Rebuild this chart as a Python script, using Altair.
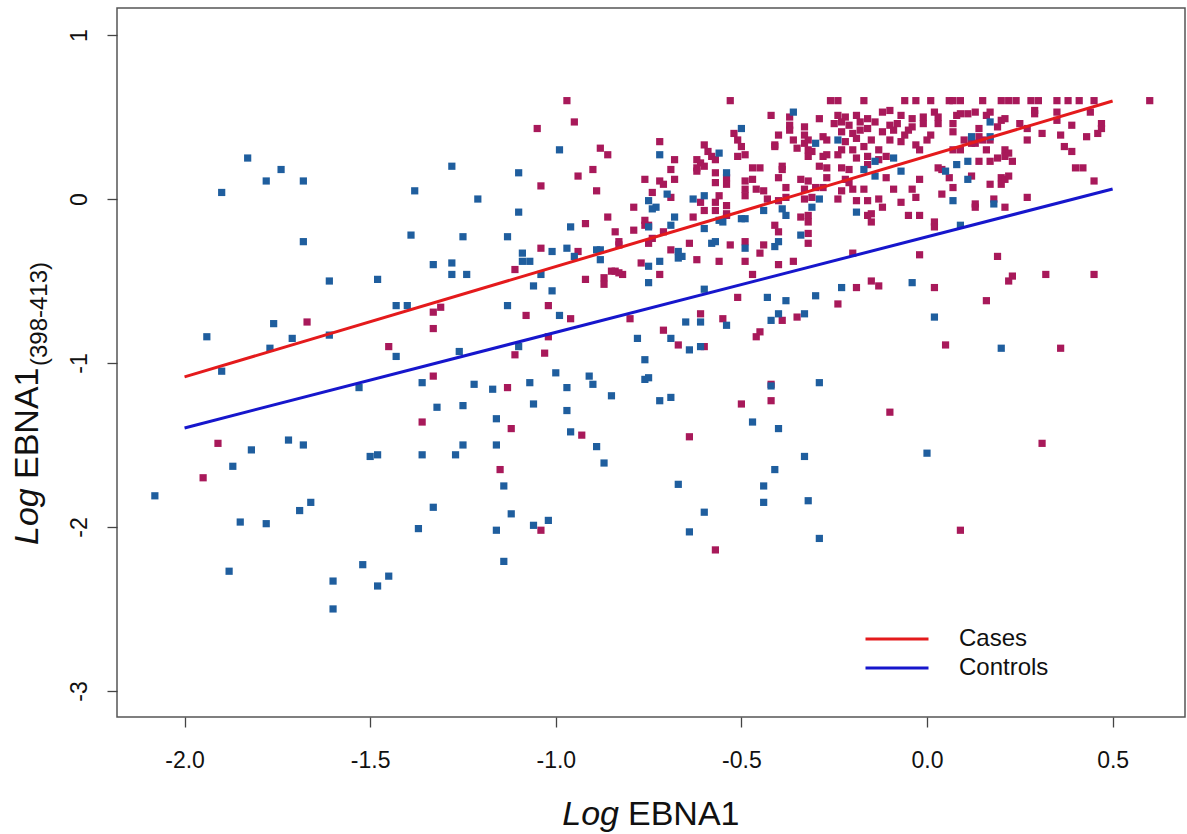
import altair as alt
import pandas as pd

# ---------------- data ----------------
groups = ["Cases", "Controls"]

cases = [
    (-1.33, -0.69), (-1.31, -0.66), (-1.33, -0.79), (-1.67, -0.75), (-1.45, -0.90), (-1.33, -1.08),
    (-1.36, -1.36), (-1.91, -1.49), (-1.95, -1.70),
    (-0.97, 0.60), (-0.53, 0.60), (-1.05, 0.43), (-0.95, 0.47), (-0.52, 0.40), (-0.51, 0.36),
    (-0.50, 0.32), (-0.51, 0.26), (-0.49, 0.27), (-0.72, 0.35), (-0.60, 0.33), (-0.59, 0.29),
    (-0.58, 0.26), (-0.57, 0.24), (-0.62, 0.24), (-0.61, 0.22), (-0.62, 0.19), (-0.60, 0.20),
    (-0.62, 0.17), (-0.88, 0.31), (-0.86, 0.27), (-0.68, 0.24), (-0.90, 0.18), (-0.69, 0.18),
    (-0.94, 0.14), (-0.57, 0.16), (-0.54, 0.13), (-0.76, 0.12), (-0.72, 0.11), (-0.71, 0.09),
    (-0.68, 0.12), (-0.57, 0.10), (-0.54, 0.09), (-0.49, 0.11), (-1.04, 0.08), (-0.89, 0.05),
    (-0.74, 0.04), (-0.69, 0.01), (-0.49, 0.06), (-0.49, 0.02), (-0.56, 0.02), (-0.61, -0.02),
    (-0.57, -0.02), (-0.54, -0.04), (-0.79, -0.05), (-0.60, -0.07), (-0.57, -0.07), (-0.54, -0.09),
    (-0.86, -0.11), (-0.63, -0.11), (-0.54, -0.10), (-0.92, -0.15), (-0.76, -0.13), (-0.76, -0.16),
    (-0.75, -0.16), (-0.79, -0.19), (-0.84, -0.20), (-0.71, -0.20), (-0.74, -0.24), (-0.75, -0.27),
    (-0.83, -0.26), (-0.83, -0.28), (-0.64, -0.27), (-0.53, -0.28), (-0.49, -0.26), (-1.04, -0.30),
    (-0.94, -0.32), (-0.69, -0.31), (-0.62, -0.37), (-0.56, -0.38), (-0.49, -0.38), (-0.77, -0.39),
    (-1.11, -0.43), (-0.85, -0.44), (-0.84, -0.44), (-0.83, -0.45), (-0.82, -0.46), (-0.72, -0.46),
    (-0.92, -0.49), (-0.87, -0.48), (-0.87, -0.52), (-0.51, -0.60), (-1.02, -0.65),
    (-1.08, -0.71), (-0.96, -0.73), (-0.80, -0.73), (-0.61, -0.70), (-0.55, -0.73), (-0.71, -0.80),
    (-1.02, -0.84), (-0.67, -0.89), (-0.60, -0.90), (-1.11, -0.95), (-1.03, -0.94), (-1.13, -1.15),
    (-0.50, -1.25), (-1.12, -1.40), (-0.93, -1.44), (-0.64, -1.45), (-1.15, -1.65), (-1.04, -2.02),
    (-0.57, -2.14),
    (-0.19, -0.54), (-0.15, -0.50), (-0.13, -0.53), (0.02, -0.54), (-0.24, -0.64), (-0.39, -0.74),
    (-0.35, -0.72), (-0.45, -0.81), (-0.46, -0.84), (0.05, -0.89), (-0.42, -1.13), (-0.42, -1.23),
    (-0.10, -1.30), (0.16, -0.62), (0.36, -0.91), (0.31, -1.49), (0.09, -2.02), (0.22, -0.50),
    (-0.26, 0.60), (-0.24, 0.60), (-0.17, 0.60), (-0.06, 0.60), (-0.03, 0.60), (0.01, 0.60), (0.06, 0.60),
    (-0.42, 0.51), (-0.37, 0.50), (-0.24, 0.51), (-0.22, 0.50), (-0.19, 0.51), (-0.16, 0.49),
    (-0.12, 0.53), (-0.10, 0.54), (-0.07, 0.51), (-0.04, 0.49), (-0.01, 0.50), (0.02, 0.53), (0.03, 0.50),
    (-0.37, 0.45), (-0.33, 0.44), (-0.29, 0.49), (-0.25, 0.46), (-0.23, 0.47), (-0.21, 0.45),
    (-0.18, 0.47), (-0.14, 0.47), (-0.10, 0.45), (-0.08, 0.46), (-0.04, 0.44), (-0.01, 0.46), (0.03, 0.46),
    (-0.40, 0.39), (-0.37, 0.42), (-0.33, 0.39), (-0.28, 0.38), (-0.23, 0.41), (-0.20, 0.40),
    (-0.18, 0.42), (-0.16, 0.43), (-0.12, 0.41), (-0.09, 0.42), (-0.06, 0.39), (-0.05, 0.42), (0.01, 0.39),
    (-0.41, 0.33), (-0.36, 0.36), (-0.33, 0.34), (-0.32, 0.36), (-0.27, 0.36), (-0.22, 0.35),
    (-0.19, 0.37), (-0.15, 0.36), (-0.10, 0.36), (-0.07, 0.35), (-0.03, 0.33), (0.00, 0.36),
    (-0.41, 0.32), (-0.35, 0.31), (-0.32, 0.30), (-0.31, 0.29), (-0.23, 0.30), (-0.20, 0.30),
    (-0.17, 0.32), (-0.13, 0.30), (-0.02, 0.30),
    (-0.32, 0.26), (-0.28, 0.26), (-0.27, 0.27), (-0.24, 0.27), (-0.19, 0.25), (-0.16, 0.26),
    (-0.13, 0.24), (-0.11, 0.26),
    (-0.47, 0.19), (-0.45, 0.19), (-0.39, 0.18), (-0.39, 0.20), (-0.29, 0.20), (-0.27, 0.19),
    (-0.23, 0.19), (-0.21, 0.18), (-0.16, 0.21), (0.03, 0.19), (0.04, 0.18),
    (-0.47, 0.12), (-0.40, 0.13), (-0.34, 0.12), (-0.32, 0.11), (-0.27, 0.13), (-0.22, 0.12),
    (-0.21, 0.10), (-0.11, 0.13), (-0.02, 0.12), (0.06, 0.13),
    (-0.46, 0.06), (-0.44, 0.05), (-0.38, 0.07), (-0.33, 0.06), (-0.30, 0.07), (-0.28, 0.07),
    (-0.23, 0.05), (-0.20, 0.06), (-0.17, 0.06), (-0.09, 0.06), (-0.04, 0.06), (0.04, 0.03),
    (-0.43, 0.00), (-0.40, -0.01), (-0.38, 0.01), (-0.33, 0.00), (-0.31, 0.01), (-0.24, 0.00),
    (-0.19, -0.01), (-0.16, -0.01), (-0.13, 0.00), (-0.07, -0.02), (-0.03, 0.01),
    (-0.12, -0.05), (-0.34, -0.11), (-0.32, -0.10), (-0.16, -0.10), (-0.15, -0.09), (-0.05, -0.10),
    (-0.02, -0.10), (-0.32, -0.14), (-0.15, -0.14), (0.02, -0.14), (-0.41, -0.16), (0.02, -0.17),
    (-0.40, -0.20), (-0.32, -0.21), (-0.44, -0.28), (-0.32, -0.27), (-0.45, -0.33), (-0.20, -0.33),
    (-0.02, -0.34), (-0.40, -0.40), (-0.36, -0.38), (-0.47, -0.46),
    (0.07, 0.60), (0.09, 0.60), (0.15, 0.60), (0.20, 0.60), (0.22, 0.60), (0.24, 0.60), (0.28, 0.60),
    (0.30, 0.60), (0.35, 0.60), (0.38, 0.60), (0.41, 0.60), (0.45, 0.60), (0.60, 0.60),
    (0.08, 0.51), (0.09, 0.52), (0.11, 0.52), (0.13, 0.53), (0.16, 0.51), (0.17, 0.53), (0.20, 0.48),
    (0.21, 0.49), (0.29, 0.54), (0.29, 0.52), (0.35, 0.53), (0.44, 0.53),
    (0.07, 0.46), (0.14, 0.43), (0.19, 0.44), (0.25, 0.46), (0.27, 0.43), (0.35, 0.48), (0.39, 0.45),
    (0.47, 0.46), (0.47, 0.43),
    (0.07, 0.41), (0.14, 0.38), (0.31, 0.40), (0.36, 0.39), (0.43, 0.38), (0.46, 0.40),
    (0.10, 0.36), (0.12, 0.34), (0.13, 0.34), (0.15, 0.36), (0.17, 0.36), (0.27, 0.36),
    (0.07, 0.30), (0.09, 0.30), (0.16, 0.30), (0.21, 0.30), (0.22, 0.28), (0.37, 0.32), (0.39, 0.29),
    (0.14, 0.23), (0.17, 0.23), (0.19, 0.25), (0.21, 0.26), (0.23, 0.23), (0.40, 0.19), (0.42, 0.19),
    (0.12, 0.14), (0.20, 0.13), (0.21, 0.12), (0.22, 0.14), (0.17, 0.09), (0.20, 0.09), (0.45, 0.11),
    (0.07, 0.07), (0.27, 0.01), (0.18, 0.00), (0.13, -0.03), (0.13, -0.05), (0.21, -0.05),
    (0.19, -0.35), (0.23, -0.47), (0.32, -0.46), (0.45, -0.46),
]

controls = [
    (-1.83, 0.25), (-1.74, 0.18), (-1.78, 0.11), (-1.68, 0.11), (-1.90, 0.04), (-1.28, 0.20),
    (-1.38, 0.05), (-1.21, 0.00), (-1.68, -0.26), (-1.39, -0.22), (-1.25, -0.23), (-1.33, -0.40),
    (-1.28, -0.39), (-1.28, -0.46), (-1.24, -0.46), (-1.61, -0.50), (-1.48, -0.49), (-1.43, -0.65),
    (-1.40, -0.65), (-1.76, -0.76), (-1.94, -0.84), (-1.71, -0.85), (-1.61, -0.83), (-1.77, -0.91),
    (-1.43, -0.96), (-1.26, -0.93), (-1.90, -1.05), (-1.53, -1.15), (-1.36, -1.12), (-1.22, -1.13),
    (-1.32, -1.27), (-1.25, -1.26), (-1.82, -1.53), (-1.72, -1.47), (-1.68, -1.50), (-1.50, -1.57),
    (-1.48, -1.56), (-1.36, -1.56), (-1.27, -1.56), (-1.25, -1.50), (-1.87, -1.63), (-2.08, -1.81),
    (-1.66, -1.85), (-1.69, -1.90), (-1.85, -1.97), (-1.78, -1.98), (-1.33, -1.88), (-1.37, -2.01),
    (-1.88, -2.27), (-1.52, -2.23), (-1.45, -2.30), (-1.48, -2.36), (-1.60, -2.33), (-1.60, -2.50),
    (-0.50, 0.43), (-0.56, 0.28), (-0.99, 0.30), (-0.72, 0.27), (-1.10, 0.16), (-0.54, 0.16),
    (-0.70, 0.03), (-0.63, 0.00), (-0.60, 0.02), (-0.75, -0.01), (-0.73, -0.05), (-0.74, -0.06),
    (-1.10, -0.08), (-0.68, -0.11), (-0.56, -0.13), (-0.55, -0.14), (-0.50, -0.12), (-0.49, -0.12),
    (-0.96, -0.17), (-0.75, -0.17), (-0.69, -0.16), (-0.60, -0.18), (-1.13, -0.23), (-0.58, -0.27),
    (-0.57, -0.26), (-0.49, -0.30), (-1.09, -0.33), (-1.09, -0.38), (-1.07, -0.38), (-1.01, -0.32),
    (-0.97, -0.30), (-0.95, -0.35), (-0.89, -0.31), (-0.88, -0.31), (-0.88, -0.37), (-0.67, -0.32),
    (-0.67, -0.36), (-0.66, -0.35), (-0.75, -0.41), (-0.72, -0.38), (-1.04, -0.46), (-1.06, -0.53),
    (-0.75, -0.51), (-1.01, -0.56), (-0.60, -0.55), (-1.13, -0.65),
    (-0.99, -0.71), (-0.65, -0.75), (-0.61, -0.75), (-0.54, -0.77), (-0.78, -0.85), (-1.10, -0.90),
    (-0.69, -0.85), (-0.64, -0.92), (-0.61, -0.90), (-0.76, -0.98), (-1.00, -1.06), (-0.91, -1.08),
    (-0.90, -1.13), (-1.07, -1.12), (-0.76, -1.10), (-0.75, -1.09), (-1.17, -1.16), (-0.97, -1.15),
    (-0.85, -1.20), (-0.72, -1.23), (-0.69, -1.21), (-1.06, -1.25), (-0.97, -1.29), (-1.16, -1.34),
    (-0.96, -1.42), (-1.16, -1.50), (-0.89, -1.51), (-0.87, -1.61), (-1.14, -1.75), (-0.67, -1.74),
    (-1.12, -1.92), (-0.60, -1.91), (-1.16, -2.02), (-1.06, -1.99), (-1.02, -1.96), (-0.64, -2.03),
    (-1.14, -2.21),
    (-0.23, -0.54), (-0.04, -0.51), (-0.43, -0.60), (-0.38, -0.62), (-0.30, -0.59), (-0.40, -0.70),
    (-0.42, -0.74), (-0.33, -0.70), (0.02, -0.72), (-0.42, -1.14), (-0.29, -1.12), (-0.47, -1.36),
    (-0.40, -1.40), (-0.33, -1.57), (0.00, -1.55), (-0.41, -1.65), (-0.44, -1.75), (-0.44, -1.85),
    (-0.32, -1.84), (-0.29, -2.07), (0.20, -0.91),
    (-0.36, 0.53), (-0.30, 0.34), (-0.24, 0.36), (-0.09, 0.25), (-0.14, 0.23), (-0.17, 0.18),
    (-0.07, 0.17), (-0.14, 0.14), (0.05, 0.17), (-0.29, 0.00), (-0.39, -0.06), (-0.31, -0.05),
    (-0.19, -0.08), (-0.44, -0.07), (-0.38, -0.10), (-0.34, -0.22), (-0.41, -0.29), (-0.40, -0.26),
    (0.17, 0.47), (0.12, 0.38), (0.17, 0.38), (0.11, 0.23), (0.08, 0.21), (0.11, 0.12),
    (0.07, -0.01), (0.18, -0.03), (0.09, -0.16),
]

fit_x = [-2.0, 0.5]
cases_fit_y = [-1.085, 0.598]
controls_fit_y = [-1.396, 0.061]

x_ticks = [-2.0, -1.5, -1.0, -0.5, 0.0, 0.5]
y_ticks = [-3, -2, -1, 0, 1]
x_domain = [-2.182, 0.695]
y_domain = [-3.159, 1.165]

point_colors = ["#A8195A", "#1F5E9E"]
line_colors = ["#E41A1C", "#1616CC"]

# ---------------- tables ----------------
pts = pd.DataFrame(
    [{"x": a, "y": b, "group": groups[0]} for a, b in cases]
    + [{"x": a, "y": b, "group": groups[1]} for a, b in controls]
)
fits = pd.DataFrame(
    [{"x": fx, "y": fy, "group": groups[0]} for fx, fy in zip(fit_x, cases_fit_y)]
    + [{"x": fx, "y": fy, "group": groups[1]} for fx, fy in zip(fit_x, controls_fit_y)]
)

FONT = "Liberation Sans"
W, H = 1068, 709

xscale = alt.Scale(domain=x_domain, nice=False, zero=False)
yscale = alt.Scale(domain=y_domain, nice=False, zero=False)

xaxis = alt.Axis(
    values=x_ticks, title=None, grid=False, domain=False,
    tickSize=10, tickColor="#444444", tickWidth=1.3,
    labelFontSize=23, labelPadding=22, labelColor="#111111", labelFont=FONT,
    labelExpr="datum.value < 0 ? '-' + format(-datum.value, '.1f') : format(datum.value, '.1f')",
)
yaxis = alt.Axis(
    values=y_ticks, title=None, grid=False, domain=False,
    tickSize=10, tickColor="#444444", tickWidth=1.3,
    labelFontSize=23, labelPadding=16, labelColor="#111111", labelFont=FONT,
    labelAngle=270, labelAlign="center", labelBaseline="bottom",
    labelExpr="datum.value < 0 ? '-' + format(-datum.value, 'd') : format(datum.value, 'd')",
)

points = alt.Chart(pts).mark_square(size=52, opacity=1).encode(
    x=alt.X("x:Q", scale=xscale, axis=xaxis),
    y=alt.Y("y:Q", scale=yscale, axis=yaxis),
    fill=alt.Fill("group:N", scale=alt.Scale(domain=groups, range=point_colors), legend=None),
)

lines = alt.Chart(fits).mark_line(strokeWidth=3).encode(
    x=alt.X("x:Q", scale=xscale),
    y=alt.Y("y:Q", scale=yscale),
    detail="group:N",
    stroke=alt.Stroke(
        "group:N",
        scale=alt.Scale(domain=groups, range=line_colors),
        legend=alt.Legend(
            title=None, orient="none", legendX=768, legendY=619,
            symbolType="M-3,0H3", symbolSize=441, symbolStrokeWidth=3,
            labelFontSize=24, labelFont=FONT, labelColor="#111111",
            labelOffset=50, rowPadding=5, padding=0,
        ),
    ),
)

one = pd.DataFrame({"k": [0]})
tx_log = alt.Chart(one).mark_text(
    text="Log", fontStyle="italic", fontSize=34, font=FONT, align="right", baseline="middle", color="#111111"
).encode(x=alt.value(502), y=alt.value(807))
tx_main = alt.Chart(one).mark_text(
    text="EBNA1", fontSize=34, font=FONT, align="left", baseline="middle", color="#111111"
).encode(x=alt.value(511), y=alt.value(807))

ty_log = alt.Chart(one).mark_text(
    text="Log", fontStyle="italic", fontSize=34, font=FONT, align="left", baseline="middle",
    angle=270, color="#111111"
).encode(x=alt.value(-89), y=alt.value(537))
ty_main = alt.Chart(one).mark_text(
    text="EBNA1", fontSize=34, font=FONT, align="left", baseline="middle",
    angle=270, color="#111111"
).encode(x=alt.value(-89), y=alt.value(471))
ty_sub = alt.Chart(one).mark_text(
    text="(398-413)", fontSize=24, font=FONT, align="left", baseline="middle",
    angle=270, color="#111111"
).encode(x=alt.value(-77), y=alt.value(358))

chart = alt.layer(points, lines, tx_log, tx_main, ty_log, ty_main, ty_sub).resolve_scale(
    fill="independent", stroke="independent"
).properties(
    width=W, height=H,
    padding={"left": 117, "top": 8, "right": 2, "bottom": 117},
    autosize=alt.AutoSizeParams(type="none"),
    background="white",
).configure(
    font=FONT,
    view=alt.ViewConfig(stroke="#555555", strokeWidth=1.5),
)

chart.save("out.html", embed_options={"renderer": "svg", "actions": False})
